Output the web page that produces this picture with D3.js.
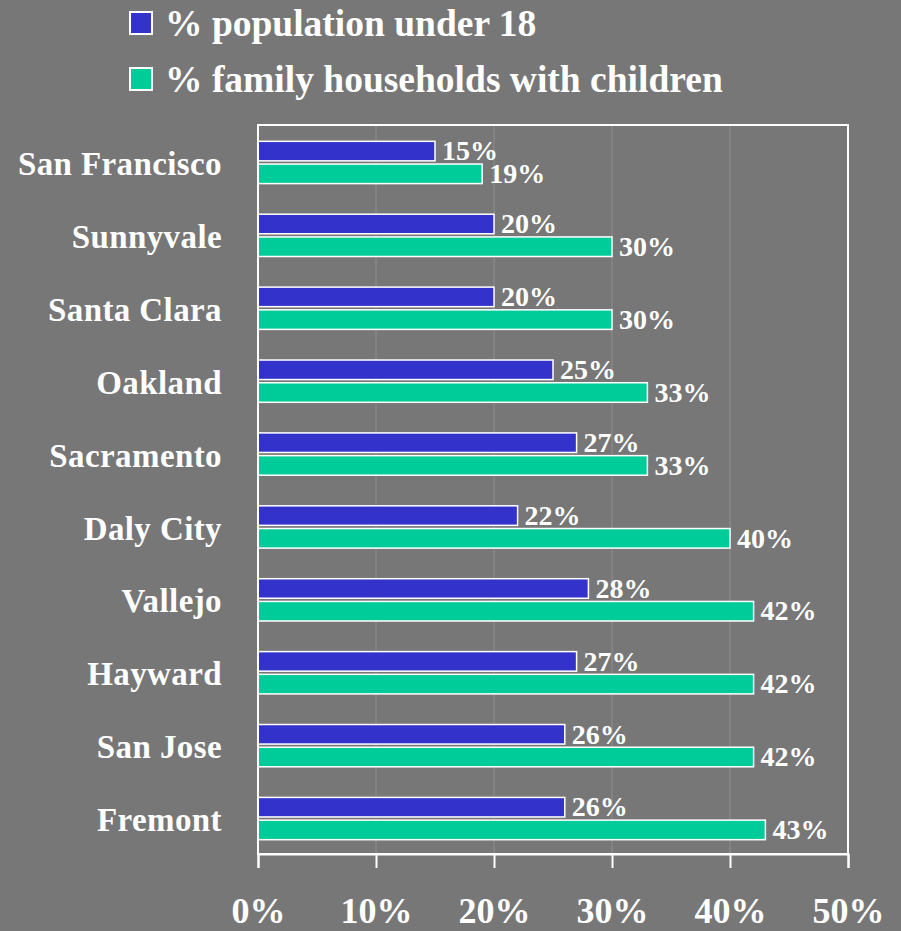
<!DOCTYPE html>
<html>
<head>
<meta charset="utf-8">
<script src="https://cdn.jsdelivr.net/npm/d3@7"></script>
<style>
  html, body { margin: 0; padding: 0; background: #777777; }
  svg { display: block; }
  text { font-family: "Liberation Serif", "Times New Roman", serif; font-weight: bold; fill: #ffffff; }
</style>
</head>
<body>
<svg id="chart" width="901" height="931"></svg>
<script>
const categories = ["San Francisco", "Sunnyvale", "Santa Clara", "Oakland", "Sacramento", "Daly City", "Vallejo", "Hayward", "San Jose", "Fremont"];
const seriesNames = ["% population under 18", "% family households with children"];
const under18 = [15, 20, 20, 25, 27, 22, 28, 27, 26, 26];
const familiesWithChildren = [19, 30, 30, 33, 33, 40, 42, 42, 42, 43];
const xTicks = [0, 10, 20, 30, 40, 50];
const colors = ["#3333cc", "#00cc99"];

(function () {
const svg = d3.select("#chart");
const pLeft = 258, pRight = 848, pTop = 125, pBottom = 854;

const x = d3.scaleLinear().domain([0, 50]).range([pLeft, pRight]);
const y0 = d3.scaleBand().domain(categories).range([pTop + 1, pBottom + 1]).paddingInner(0.42).paddingOuter(0.21);
const y1 = d3.scaleBand().domain([0, 1]).range([0, y0.bandwidth()]).paddingInner(0.14);

// gridlines
svg.append("g").selectAll("line").data(xTicks.filter(t => t > 0 && t < 50)).join("line")
  .attr("x1", d => x(d)).attr("x2", d => x(d))
  .attr("y1", pTop).attr("y2", pBottom)
  .attr("stroke", "#878787").attr("stroke-width", 1.5);

// bars
const rows = categories.map((c, i) => ({ c, vals: [under18[i], familiesWithChildren[i]] }));
const g = svg.append("g").selectAll("g").data(rows).join("g")
  .attr("transform", d => `translate(0,${y0(d.c)})`);
g.selectAll("rect").data(d => d.vals.map((v, k) => ({ v, k }))).join("rect")
  .attr("x", x(0)).attr("y", d => y1(d.k))
  .attr("width", d => x(d.v) - x(0)).attr("height", y1.bandwidth())
  .attr("fill", d => colors[d.k]).attr("stroke", "#ffffff").attr("stroke-width", 1.5);
g.selectAll("text").data(d => d.vals.map((v, k) => ({ v, k }))).join("text")
  .attr("x", d => x(d.v) + 7).attr("y", d => y1(d.k) + y1.bandwidth() / 2)
  .attr("dy", "0.33em")
  .attr("font-size", 28)
  .text(d => d.v + "%");

// frame
svg.append("rect").attr("x", pLeft).attr("y", pTop).attr("width", pRight - pLeft).attr("height", pBottom - pTop)
  .attr("fill", "none").attr("stroke", "#ffffff").attr("stroke-width", 2);

// x axis
const xAxis = d3.axisBottom(x).tickValues(xTicks).tickSize(14).tickFormat(d => d + "%");
const ax = svg.append("g").attr("transform", `translate(0,${pBottom})`).call(xAxis);
ax.select(".domain").attr("stroke", "#ffffff").attr("stroke-width", 2);
ax.selectAll(".tick line").attr("stroke", "#ffffff").attr("stroke-width", 2);
ax.selectAll(".tick text").attr("fill", "#ffffff").attr("font-size", 36)
  .attr("font-family", "'Liberation Serif', 'Times New Roman', serif").attr("font-weight", "bold")
  .attr("y", 0).attr("dy", 0).attr("transform", "translate(0,69)");

// y axis labels
svg.append("g").selectAll("text").data(categories).join("text")
  .attr("x", 222).attr("y", d => y0(d) + y0.bandwidth() / 2 + 1)
  .attr("dy", "0.35em").attr("text-anchor", "end")
  .attr("font-size", 33).attr("letter-spacing", 0.4)
  .text(d => d);

// legend
const lg = svg.append("g").selectAll("g").data(seriesNames).join("g")
  .attr("transform", (d, i) => `translate(130,${12 + i * 56})`);
lg.append("rect").attr("width", 22).attr("height", 22)
  .attr("fill", (d, i) => colors[i]).attr("stroke", "#ffffff").attr("stroke-width", 2);
lg.append("text").attr("x", 35).attr("y", 24).attr("font-size", 37.5).text(d => d);
})();
</script>
</body>
</html>
